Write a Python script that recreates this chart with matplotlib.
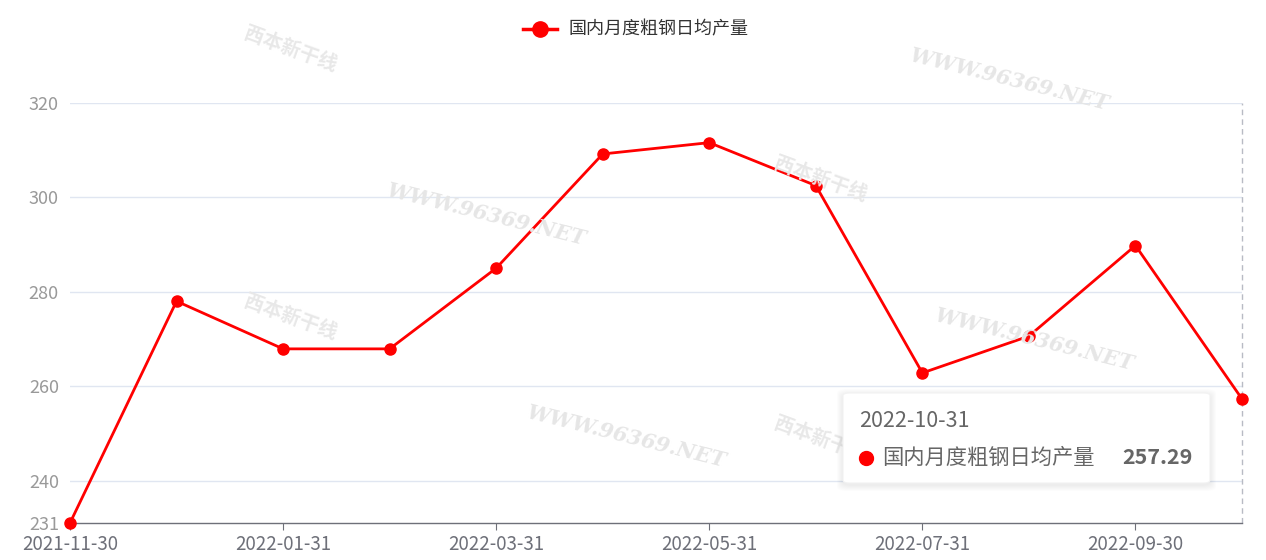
import matplotlib
matplotlib.use("Agg")
import matplotlib.pyplot as plt
from matplotlib.patches import FancyBboxPatch

plt.rcParams['font.family'] = ['Noto Sans CJK SC', 'DejaVu Sans']

# data
dates = ["2021-11-30", "2021-12-31", "2022-01-31", "2022-02-28",
         "2022-03-31", "2022-04-30", "2022-05-31", "2022-06-30",
         "2022-07-31", "2022-08-31", "2022-09-30", "2022-10-31"]
output = [231.0, 278.0, 267.9, 267.9, 285.0, 309.2,
          311.6, 302.5, 262.8, 270.6, 289.8, 257.29]
series_name = "国内月度粗钢日均产量"
y_ticks = [231, 240, 260, 280, 300, 320]

W, H = 1266, 560
fig = plt.figure(figsize=(W / 100, H / 100), dpi=100)

# pixel -> figure coords helper
def fx(px):
    return px / W

def fy(py):
    return 1 - py / H

ax = fig.add_axes([fx(70), fy(523), fx(1242) - fx(70), fy(103) - fy(523)])

x = list(range(len(dates)))

# faint watermarks
for (px, py) in [(1010, 80), (487, 215), (1035, 340), (627, 437)]:
    fig.text(fx(px), fy(py), "WWW.96369.NET", family="DejaVu Serif",
             style="italic", weight="bold", fontsize=15, color="#e6e6e6",
             rotation=-14, ha="center", va="center", zorder=0)
for (px, py) in [(290, 50), (290, 318), (820, 180), (820, 440)]:
    fig.text(fx(px), fy(py), "西本新干线", fontsize=14, weight="bold",
             color="#e8e8e8", rotation=-20, ha="center", va="center", zorder=0)

for yt in y_ticks[1:]:
    ax.axhline(yt, color="#E0E6F1", lw=1, zorder=1)

# axis pointer line at the last point
ax.axvline(x[-1], color="#B8BBC4", lw=1, ls=(0, (4, 3)), zorder=2,
           clip_on=False)

ax.plot(x, output, color="#FF0000", lw=2, marker="o", markersize=8,
        markerfacecolor="#FF0000", markeredgecolor="#FF0000", zorder=3,
        clip_on=False)

ax.set_xlim(x[0], x[-1])
ax.set_ylim(231, 320)
ax.set_yticks(y_ticks)
ax.set_yticklabels([str(v) for v in y_ticks])
ax.set_xticks(x[::2])
ax.set_xticklabels(dates[::2])

for s in ["top", "right", "left"]:
    ax.spines[s].set_visible(False)
ax.spines["bottom"].set_color("#6E7079")
ax.spines["bottom"].set_linewidth(1)

ax.tick_params(axis="y", length=0, pad=8, labelsize=13, labelcolor="#999999")
ax.tick_params(axis="x", length=5, color="#6E7079", pad=3, labelsize=13.5,
               labelcolor="#6E7079")

# legend
fig.lines.append(plt.Line2D([fx(523), fx(557)], [fy(29), fy(29)],
                            transform=fig.transFigure, color="#FF0000", lw=2.5))
fig.lines.append(plt.Line2D([fx(540)], [fy(29)], transform=fig.transFigure,
                            marker="o", markersize=11, color="#FF0000"))
fig.text(fx(568), fy(29), series_name, fontsize=13, color="#333333",
         ha="left", va="center")

# tooltip box with soft shadow
bx0, by0, bx1, by1 = 843, 393, 1210, 483
for i in range(6):
    grow = 6 - i
    sh = FancyBboxPatch((fx(bx0 - grow), fy(by1 + grow + 2)),
                        fx(bx1 - bx0 + 2 * grow), fy(0) - fy(by1 - by0 + 2 * grow),
                        boxstyle="round,pad=0,rounding_size=0.008",
                        transform=fig.transFigure, facecolor="black",
                        edgecolor="none", alpha=0.012, zorder=5)
    fig.patches.append(sh)
box = FancyBboxPatch((fx(bx0), fy(by1)), fx(bx1 - bx0), fy(0) - fy(by1 - by0),
                     boxstyle="round,pad=0,rounding_size=0.005",
                     transform=fig.transFigure, facecolor="white",
                     edgecolor="#f2f2f2", lw=0.8, zorder=6)
fig.patches.append(box)
fig.text(fx(859), fy(421), dates[-1], fontsize=15.5, color="#666666",
         ha="left", va="center", zorder=7)
fig.lines.append(plt.Line2D([fx(866)], [fy(458)], transform=fig.transFigure,
                            marker="o", markersize=10, color="#FF0000", zorder=7))
fig.text(fx(882), fy(458), series_name, fontsize=15.3, color="#666666",
         ha="left", va="center", zorder=7)
fig.text(fx(1193), fy(458), f"{output[-1]:.2f}", fontsize=15.5, weight="bold",
         color="#666666", ha="right", va="center", zorder=7)

fig.savefig("out.png", dpi=100)
